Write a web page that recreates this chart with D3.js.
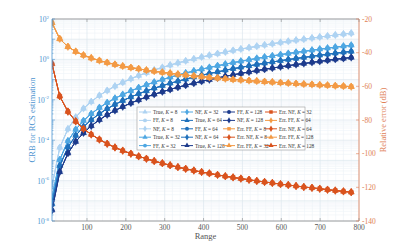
<!DOCTYPE html>
<html>
<head>
<meta charset="utf-8">
<script src="https://cdn.jsdelivr.net/npm/d3@7"></script>
<style>
body { margin: 0; background: #fff; }
svg { font-family: "Liberation Serif", "DejaVu Serif", serif; }
</style>
</head>
<body>
<div id="chart"></div>
<script>
// range samples
const range = [10, 30, 51, 71, 91, 111, 132, 152, 172, 192, 213, 233, 253, 273, 294, 314, 334, 354, 375, 395,
    415, 436, 456, 476, 496, 517, 537, 557, 577, 598, 618, 638, 658, 679, 699, 719, 739, 760, 780];

// CRB curves (left axis, log)
const crbK8 = [5.4e-7, 4.3e-5, 3.6e-4, 1.36e-3, 3.7e-3, 8.1e-3, 0.0164, 0.0287, 0.0472, 0.0728, 0.110, 0.158, 0.220, 0.298,
    0.400, 0.522, 0.670, 0.843, 1.06, 1.31, 1.59, 1.93, 2.32, 2.77, 3.24, 3.82, 4.47, 5.18, 5.94, 6.89, 7.83, 8.91, 10.0,
    11.4, 12.8, 14.4, 16.1, 17.9, 19.9];
const crbK32 = [1.35e-7, 1.08e-5, 9.1e-5, 3.4e-4, 9.2e-4, 2.03e-3, 4.1e-3, 7.2e-3, 0.0118, 0.0182, 0.0276, 0.0396, 0.055,
    0.0745, 0.100, 0.131, 0.168, 0.211, 0.266, 0.328, 0.398, 0.483, 0.58, 0.69, 0.81, 0.955, 1.12, 1.30, 1.49, 1.72, 1.96,
    2.23, 2.50, 2.85, 3.20, 3.60, 4.02, 4.48, 4.98];
const crbK64 = [6.8e-8, 5.4e-6, 4.5e-5, 1.7e-4, 4.6e-4, 1.01e-3, 2.05e-3, 3.6e-3, 5.9e-3, 9.1e-3, 0.0138, 0.0198, 0.0275,
    0.0373, 0.050, 0.0653, 0.0838, 0.105, 0.133, 0.164, 0.199, 0.241, 0.29, 0.346, 0.405, 0.478, 0.559, 0.648, 0.743, 0.861,
    0.979, 1.11, 1.25, 1.43, 1.60, 1.80, 2.01, 2.24, 2.49];
const crbK128 = [3.4e-8, 2.7e-6, 2.25e-5, 8.5e-5, 2.3e-4, 5.1e-4, 1.03e-3, 1.8e-3, 2.95e-3, 4.55e-3, 6.9e-3, 9.9e-3, 0.0138,
    0.0186, 0.025, 0.0326, 0.0419, 0.0527, 0.0663, 0.082, 0.099, 0.121, 0.145, 0.173, 0.203, 0.239, 0.279, 0.324, 0.371,
    0.431, 0.489, 0.557, 0.625, 0.713, 0.80, 0.90, 1.01, 1.12, 1.24];

// relative error curves (right axis, dB)
const errFF = [-22.3, -31.8, -36.5, -39.3, -41.5, -43.2, -44.7, -45.9, -47.0, -48.0, -48.9, -49.6, -50.4, -51.0, -51.7,
    -52.2, -52.8, -53.3, -53.8, -54.2, -54.7, -55.1, -55.5, -55.9, -56.2, -56.6, -56.9, -57.2, -57.5, -57.8, -58.1, -58.4,
    -58.7, -58.9, -59.2, -59.4, -59.7, -59.9, -60.2];
const errNF = [-46.7, -65.9, -75.0, -80.8, -85.2, -88.6, -91.6, -94.1, -96.3, -98.2, -100.0, -101.6, -103.0, -104.4, -105.7,
    -106.9, -108.0, -109.0, -110.0, -110.9, -111.7, -112.6, -113.4, -114.1, -114.8, -115.5, -116.2, -116.8, -117.4, -118.1,
    -118.6, -119.2, -119.8, -120.3, -120.8, -121.4, -121.9, -122.4, -122.9];

const kValues = [8, 32, 64, 128];
const xTicks = [100, 200, 300, 400, 500, 600, 700, 800];
const yTicksLeft = [1e-8, 1e-6, 1e-4, 1e-2, 1, 1e2];
const yTicksRight = [-140, -120, -100, -80, -60, -40, -20];

const crbByK = { 8: crbK8, 32: crbK32, 64: crbK64, 128: crbK128 };
const blueByK = { 8: "#aed3f2", 32: "#4ea7e2", 64: "#1f70bb", 128: "#1d3b8c" };
const ffColor = "#f39a45", nfColor = "#d9531e";
const leftColor = "#4d94d0", rightColor = "#e07e55";

// series in legend order
var series = [];
kValues.forEach(k => {
    series.push({ name: "True", k: k, values: crbByK[k], side: "left", color: blueByK[k], sym: d3.symbolTriangle });
    series.push({ name: "FF", k: k, values: crbByK[k], side: "left", color: blueByK[k], sym: d3.symbolCircle });
    series.push({ name: "NF", k: k, values: crbByK[k], side: "left", color: blueByK[k], sym: d3.symbolDiamond });
});
const errSyms = [[d3.symbolSquare, d3.symbolDiamond], [d3.symbolTriangle, d3.symbolSquare],
    [d3.symbolDiamond, d3.symbolDiamond], [d3.symbolTriangle, d3.symbolTriangle]];
kValues.forEach((k, i) => {
    series.push({ name: "Err. FF", k: k, values: errFF, side: "right", color: ffColor, sym: errSyms[i][0] });
    series.push({ name: "Err. NF", k: k, values: errNF, side: "right", color: nfColor, sym: errSyms[i][1] });
});

var w = 397, h = 249;
var margin = { left: 52, right: 38, top: 19, bottom: 28 };
var x0 = margin.left, x1 = w - margin.right, y0 = margin.top, y1 = h - margin.bottom;

var xscale = d3.scaleLinear().domain([10, 800]).range([x0, x1]);
var yLeft = d3.scaleLog().domain([1e-8, 1e2]).range([y1, y0]);
var yRight = d3.scaleLinear().domain([-140, -20]).range([y1, y0]);

var svg = d3.select("#chart").append("svg")
    .attr("width", w)
    .attr("height", h);

svg.append("defs").append("clipPath").attr("id", "clip")
    .append("rect").attr("x", x0).attr("y", y0).attr("width", x1 - x0).attr("height", y1 - y0);

// grid
var grid = svg.append("g");
var minorX = d3.range(20, 800, 20).filter(v => v % 100 != 0);
grid.selectAll(".gxm").data(minorX).enter().append("line")
    .attr("x1", d => xscale(d)).attr("x2", d => xscale(d))
    .attr("y1", y0).attr("y2", y1)
    .attr("stroke", "#eef3f8").attr("stroke-width", 0.6);
var minorY = [];
for (var e = -8; e < 2; e++) for (var m = 2; m < 10; m++) minorY.push(m * Math.pow(10, e));
grid.selectAll(".gym").data(minorY).enter().append("line")
    .attr("x1", x0).attr("x2", x1)
    .attr("y1", d => yLeft(d)).attr("y2", d => yLeft(d))
    .attr("stroke", "#eef3f8").attr("stroke-width", 0.6);
grid.selectAll(".gx").data(xTicks).enter().append("line")
    .attr("x1", d => xscale(d)).attr("x2", d => xscale(d))
    .attr("y1", y0).attr("y2", y1)
    .attr("stroke", "#dde6ee").attr("stroke-width", 0.7);
grid.selectAll(".gy").data(d3.range(-8, 3).map(e => Math.pow(10, e))).enter().append("line")
    .attr("x1", x0).attr("x2", x1)
    .attr("y1", d => yLeft(d)).attr("y2", d => yLeft(d))
    .attr("stroke", "#dde6ee").attr("stroke-width", 0.7);

// curves
var plot = svg.append("g").attr("clip-path", "url(#clip)");
series.forEach(s => {
    var ys = s.side == "left" ? yLeft : yRight;
    var line = d3.line().x((d, i) => xscale(range[i])).y(d => ys(d));
    plot.append("path")
        .attr("d", line(s.values))
        .attr("fill", "none")
        .attr("stroke", s.color)
        .attr("stroke-width", 1);
    plot.selectAll(null).data(s.values).enter().append("path")
        .attr("d", d3.symbol().type(s.sym).size(16))
        .attr("transform", (d, i) => "translate(" + xscale(range[i]) + "," + ys(d) + ")")
        .attr("fill", s.color)
        .attr("stroke", s.color)
        .attr("stroke-width", 0.5);
});

// axes frame
var frame = svg.append("g");
frame.append("line").attr("x1", x0).attr("x2", x1).attr("y1", y1).attr("y2", y1).attr("stroke", "#8a8a8a").attr("stroke-width", 0.8);
frame.append("line").attr("x1", x0).attr("x2", x1).attr("y1", y0).attr("y2", y0).attr("stroke", "#8a8a8a").attr("stroke-width", 0.8);
frame.append("line").attr("x1", x0).attr("x2", x0).attr("y1", y0).attr("y2", y1).attr("stroke", leftColor).attr("stroke-width", 0.8);
frame.append("line").attr("x1", x1).attr("x2", x1).attr("y1", y0).attr("y2", y1).attr("stroke", rightColor).attr("stroke-width", 0.8);

// x ticks
frame.selectAll(".xt").data(xTicks).enter().append("line")
    .attr("x1", d => xscale(d)).attr("x2", d => xscale(d)).attr("y1", y1).attr("y2", y1 - 3)
    .attr("stroke", "#8a8a8a").attr("stroke-width", 0.6);
frame.selectAll(".xtt").data(xTicks).enter().append("line")
    .attr("x1", d => xscale(d)).attr("x2", d => xscale(d)).attr("y1", y0).attr("y2", y0 + 3)
    .attr("stroke", "#8a8a8a").attr("stroke-width", 0.6);
frame.selectAll(".xl").data(xTicks).enter().append("text")
    .attr("x", d => xscale(d)).attr("y", y1 + 9)
    .attr("text-anchor", "middle").attr("font-size", 7.5).attr("fill", "#555")
    .text(d => d);

// left ticks
frame.selectAll(".ylt").data(d3.range(-8, 3).map(e => Math.pow(10, e))).enter().append("line")
    .attr("x1", x0).attr("x2", x0 + 3).attr("y1", d => yLeft(d)).attr("y2", d => yLeft(d))
    .attr("stroke", leftColor).attr("stroke-width", 0.6);
frame.selectAll(".ylm").data(minorY).enter().append("line")
    .attr("x1", x0).attr("x2", x0 + 1.5).attr("y1", d => yLeft(d)).attr("y2", d => yLeft(d))
    .attr("stroke", leftColor).attr("stroke-width", 0.5);
var yl = frame.selectAll(".yll").data(yTicksLeft).enter().append("text")
    .attr("x", x0 - 3).attr("y", d => yLeft(d) + 3)
    .attr("text-anchor", "end").attr("font-size", 7.5).attr("fill", leftColor);
yl.append("tspan").text("10");
yl.append("tspan").attr("dy", -3.5).attr("font-size", 5).text(d => Math.round(Math.log10(d)));

// right ticks
frame.selectAll(".yrt").data(yTicksRight).enter().append("line")
    .attr("x1", x1).attr("x2", x1 - 3).attr("y1", d => yRight(d)).attr("y2", d => yRight(d))
    .attr("stroke", rightColor).attr("stroke-width", 0.6);
frame.selectAll(".yrl").data(yTicksRight).enter().append("text")
    .attr("x", x1 + 3).attr("y", d => yRight(d) + 2.7)
    .attr("font-size", 7.5).attr("fill", rightColor)
    .text(d => d);

// axis titles
svg.append("text").attr("x", (x0 + x1) / 2).attr("y", h - 10)
    .attr("text-anchor", "middle").attr("font-size", 8.5).attr("fill", "#555")
    .text("Range");
svg.append("text").attr("transform", "translate(35," + ((y0 + y1) / 2) + ") rotate(-90)")
    .attr("text-anchor", "middle").attr("font-size", 8.5).attr("fill", leftColor)
    .text("CRB for RCS estimation");
svg.append("text").attr("transform", "translate(386," + ((y0 + y1) / 2) + ") rotate(-90)")
    .attr("text-anchor", "middle").attr("font-size", 8.5).attr("fill", rightColor)
    .text("Relative error (dB)");

// legend: 4 columns x 5 rows, column-major
var lx = 137, ly = 107, colW = 42, rowH = 8.4;
var legend = svg.append("g");
legend.append("rect").attr("x", lx).attr("y", ly).attr("width", 168).attr("height", 43)
    .attr("fill", "#fff").attr("stroke", "#9a9a9a").attr("stroke-width", 0.6);
series.forEach((s, i) => {
    var col = Math.floor(i / 5), row = i % 5;
    var gx = lx + 2 + col * colW, gy = ly + 5 + row * rowH;
    var g = legend.append("g").attr("transform", "translate(" + gx + "," + gy + ")");
    g.append("line").attr("x1", 0).attr("x2", 12).attr("y1", 0).attr("y2", 0)
        .attr("stroke", s.color).attr("stroke-width", 1);
    g.append("path").attr("d", d3.symbol().type(s.sym).size(12)).attr("transform", "translate(6,0)")
        .attr("fill", s.color);
    var t = g.append("text").attr("x", 14).attr("y", 2).attr("font-size", 5.3).attr("fill", "#333");
    t.append("tspan").text(s.name + ", ");
    t.append("tspan").attr("font-style", "italic").text("K");
    t.append("tspan").text(" = " + s.k);
});
</script>
</body>
</html>
